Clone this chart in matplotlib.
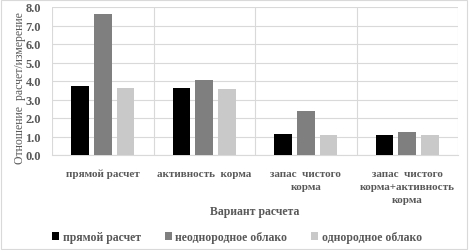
from matplotlib import pyplot as plt
from matplotlib.patches import Rectangle
import numpy as np

categories = ['прямой расчет', 'активность  корма', 'запас  чистого\nкорма',
              'запас  чистого\nкорма+активность\nкорма']
series_names = ['прямой расчет', 'неоднородное облако', 'однородное облако']
direct = [3.75, 3.6, 1.15, 1.1]
hetero = [7.62, 4.05, 2.36, 1.25]
homo = [3.64, 3.56, 1.1, 1.1]
colors = ['#000000', '#7f7f7f', '#c9c9c9']
txt = '#595959'

plt.rcParams['font.family'] = ['Liberation Serif', 'DejaVu Serif']
plt.rcParams['font.size'] = 8

fig = plt.figure(figsize=(4.69, 2.51), dpi=100)
ax = fig.add_axes([52 / 469, 1 - 156 / 251, 406 / 469, 148 / 251])

x = np.arange(len(categories))
w = 0.175
off = 0.225
for i, (vals, c, name) in enumerate(zip([direct, hetero, homo], colors, series_names)):
    ax.bar(x + (i - 1) * off, vals, width=w, color=c, label=name, zorder=3)

ax.set_xlim(-0.5, len(categories) - 0.5)
ax.set_ylim(0, 8)
ax.set_yticks(np.arange(0, 8.1, 1.0))
ax.set_yticklabels(['%.1f' % v for v in np.arange(0, 8.1, 1.0)], fontweight='bold',
                   color=txt, fontsize=9)
ax.set_xticks(x)
ax.set_xticks(np.arange(-0.5, len(categories), 1.0), minor=True)
ax.tick_params(axis='both', which='both', length=0)
ax.tick_params(axis='x', pad=6)
ax.tick_params(axis='y', pad=8)
ax.grid(axis='y', which='major', color='#d9d9d9', lw=0.8, zorder=0)
ax.grid(axis='x', which='minor', color='#d9d9d9', lw=0.8, zorder=0)
ax.set_xticklabels([])
for xi, lab in zip(x, categories):
    ax.text(xi, -0.75, lab, ha='center', va='top', fontweight='bold', color=txt,
            linespacing=1.6, transform=ax.get_xaxis_transform() if False else ax.transData)
for s in ['top', 'right', 'left']:
    ax.spines[s].set_visible(False)
ax.spines['bottom'].set_color('#d9d9d9')

fig.text(20 / 469, 1 - 88 / 251, 'Отношение  расчет/измерение', rotation=90,
         ha='center', va='center', color=txt, fontsize=8.5)
fig.text(255 / 469, 1 - 212 / 251, 'Вариант расчета', ha='center', va='center',
         color=txt, fontsize=8.5, fontweight='bold')

leg = fig.legend(loc='center', bbox_to_anchor=(237 / 469, 1 - 238 / 251), ncol=3,
                 frameon=False, handlelength=0.6, handleheight=0.6, handletextpad=0.3,
                 columnspacing=2.0, prop={'weight': 'bold', 'size': 8.5})
for t in leg.get_texts():
    t.set_color(txt)

fig.patches.append(Rectangle((0.002, 0.004), 0.994, 0.992, transform=fig.transFigure,
                             fill=False, edgecolor='#d9d9d9', lw=0.8))

plt.savefig('out.png', dpi=100)
